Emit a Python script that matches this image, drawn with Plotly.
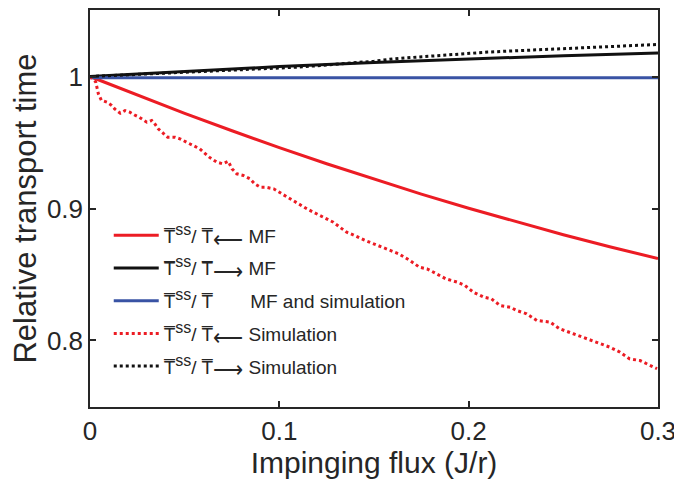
import plotly.graph_objects as go

# ---- data ----
flux_mf = [0.0, 0.025, 0.05, 0.075, 0.1, 0.125, 0.15, 0.175, 0.2, 0.225, 0.25, 0.275, 0.3]
red_mf = [1.0, 0.9858, 0.9721, 0.9589, 0.9461, 0.9339, 0.9222, 0.9109, 0.9002, 0.8899, 0.8801, 0.8708, 0.8621]

flux_black_mf = [0.0, 0.05, 0.1, 0.15, 0.2, 0.25, 0.3]
black_mf = [1.0, 1.0039, 1.0075, 1.0106, 1.0134, 1.0158, 1.0178]

flux_blue = [0.0, 0.3]
blue_line = [0.999, 0.999]

flux_red_sim = [0.000, 0.003, 0.0044, 0.006, 0.009, 0.0115, 0.013, 0.016, 0.0185, 0.021,
                0.024, 0.026, 0.030, 0.0326, 0.034, 0.036, 0.039, 0.041, 0.045, 0.0475,
                0.051, 0.0546, 0.058, 0.061, 0.063, 0.067, 0.070, 0.073, 0.075, 0.0775,
                0.081, 0.0845, 0.087, 0.090, 0.093, 0.097, 0.100, 0.104, 0.107, 0.111,
                0.1145, 0.118, 0.1215, 0.125, 0.1285, 0.132, 0.1356, 0.139, 0.145, 0.152,
                0.1585, 0.163, 0.169, 0.174, 0.178, 0.183, 0.188, 0.194, 0.198, 0.2025,
                0.208, 0.212, 0.2166, 0.222, 0.2254, 0.2306, 0.236, 0.243, 0.248, 0.2553,
                0.2623, 0.2694, 0.2746, 0.280, 0.285, 0.2905, 0.294, 0.2995]
red_sim = [1.000, 0.996, 0.987, 0.982, 0.9805, 0.978, 0.9755, 0.9722, 0.9742, 0.973,
           0.9705, 0.9692, 0.9654, 0.9667, 0.9646, 0.9604, 0.9566, 0.954, 0.954, 0.9528,
           0.9502, 0.9477, 0.9452, 0.9414, 0.9389, 0.9351, 0.9339, 0.9358, 0.9301, 0.9263,
           0.925, 0.9225, 0.9187, 0.9161, 0.9161, 0.9149, 0.9123, 0.9086, 0.9061, 0.9023,
           0.8998, 0.8972, 0.8947, 0.8922, 0.8896, 0.8858, 0.882, 0.880, 0.876, 0.872,
           0.8682, 0.8657, 0.8606, 0.8555, 0.8543, 0.8505, 0.8467, 0.8442, 0.8417, 0.8366,
           0.8328, 0.8316, 0.8265, 0.8252, 0.8227, 0.8202, 0.8152, 0.8139, 0.8089, 0.8051,
           0.8013, 0.7975, 0.7949, 0.7911, 0.7861, 0.7848, 0.7823, 0.7786]

flux_black_sim = [0.0, 0.01, 0.02, 0.03, 0.04, 0.05, 0.06, 0.07, 0.08, 0.09, 0.10,
                  0.11, 0.12, 0.13, 0.14, 0.15, 0.16, 0.17, 0.18, 0.19, 0.20,
                  0.21, 0.22, 0.23, 0.24, 0.25, 0.26, 0.27, 0.28, 0.29, 0.30]
black_sim = [1.0000, 1.0006, 1.0012, 1.0018, 1.0024, 1.0030, 1.0036, 1.0042, 1.0049, 1.0056, 1.0063,
             1.0071, 1.0082, 1.0093, 1.0104, 1.0116, 1.0134, 1.0145, 1.0156, 1.0166, 1.0176,
             1.0185, 1.0192, 1.0199, 1.0206, 1.0212, 1.0218, 1.0226, 1.0233, 1.0238, 1.0243]

x_ticks = [0, 0.1, 0.2, 0.3]
x_tick_labels = ["0", "0.1", "0.2", "0.3"]
y_ticks = [0.8, 0.9, 1.0]
y_tick_labels = ["0.8", "0.9", "1"]

OL = "\u0305"  # combining overline
SP = "\u00a0"
SS = '<sup><span style="font-size:16px">ss</span></sup>'
L_ARROW = '<sub><span style="font-size:21px">\u27f5</span></sub>'
R_ARROW = '<sub><span style="font-size:21px">\u27f6</span></sub>'

name_red_mf = f"T{OL}{SS}/ T{OL}{L_ARROW}{SP}MF"
name_black_mf = f"T{OL}{SS}/ T{OL}{R_ARROW}{SP}MF"
name_blue = f"T{OL}{SS}/ T{OL}{SP*7}MF and simulation"
name_red_sim = f"T{OL}{SS}/ T{OL}{L_ARROW}{SP}Simulation"
name_black_sim = f"T{OL}{SS}/ T{OL}{R_ARROW}{SP}Simulation"

RED = "#ec1c24"
BLUE = "#3953a4"
BLACK = "#111111"

fig = go.Figure()
fig.add_trace(go.Scatter(x=flux_mf, y=red_mf, mode="lines", name=name_red_mf, legendgroup="a",
                         line=dict(color=RED, width=3)))
fig.add_trace(go.Scatter(x=flux_black_mf, y=black_mf, mode="lines", name=name_black_mf, legendgroup="b",
                         line=dict(color=BLACK, width=3)))
fig.add_trace(go.Scatter(x=flux_blue, y=blue_line, mode="lines", name=name_blue, legendgroup="c",
                         line=dict(color=BLUE, width=3)))
fig.add_trace(go.Scatter(x=flux_red_sim, y=red_sim, mode="lines", name=name_red_sim, legendgroup="d",
                         line=dict(color=RED, width=3, dash="3px,3px")))
fig.add_trace(go.Scatter(x=flux_black_sim, y=black_sim, mode="lines", name=name_black_sim, legendgroup="e",
                         line=dict(color=BLACK, width=3, dash="3px,3px")))

axis_common = dict(
    showline=True, linecolor="#262626", linewidth=1.5, mirror="ticks",
    ticks="inside", ticklen=6, tickwidth=1.5, tickcolor="#262626",
    showgrid=False, zeroline=False, automargin=False,
    tickfont=dict(family="Liberation Sans, Arial, sans-serif", size=26, color="#262626"),
)

fig.update_layout(
    width=674, height=475,
    margin=dict(l=82, r=24, t=2, b=76),
    plot_bgcolor="white", paper_bgcolor="white",
    font=dict(family="Liberation Sans, Arial, sans-serif", color="#262626"),
    xaxis=dict(range=[0, 0.3], tickvals=x_ticks, ticktext=x_tick_labels,
               title=dict(text="Impinging flux (J/r)", font=dict(size=30), standoff=2),
               **axis_common),
    yaxis=dict(range=[0.7496, 1.0504], tickvals=y_ticks, ticktext=y_tick_labels,
               title=dict(text="Relative transport time", font=dict(size=31), standoff=2),
               **axis_common),
    legend=dict(x=0.033, y=0.48, xanchor="left", yanchor="top",
                bgcolor="rgba(255,255,255,0)", borderwidth=0,
                font=dict(size=19, color="#262626"), itemwidth=45,
                tracegroupgap=5),
    showlegend=True,
)

fig.write_html("out.html")
